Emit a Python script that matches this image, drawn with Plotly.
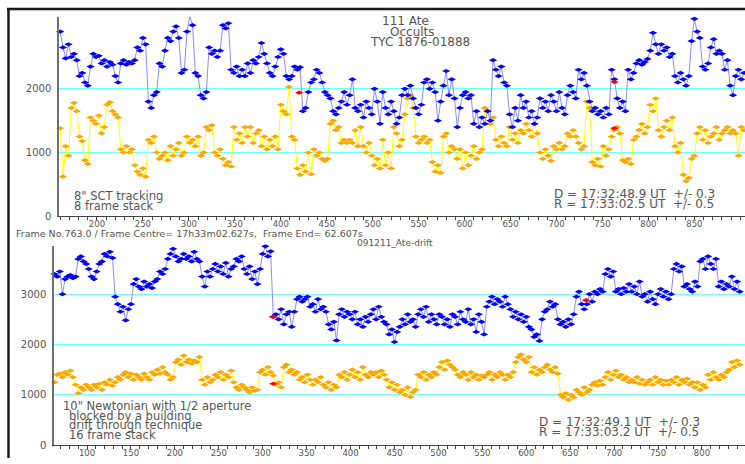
import plotly.graph_objects as go

# ---- 111 Ate occultation light curves (frame number vs. intensity) ----

# Upper panel: 8" SCT tracking, 8 frame stack; one sample every 3 frames from frame 160
top_start = 160
top_target = [
    2900, 2650, 2480, 2700, 2500, 2550, 2450, 2200, 2250, 2100,
    2050, 2350, 2550, 2500, 2520, 2400, 2450, 2350, 2420, 2380,
    2200, 2100, 2400, 2450, 2380, 2420, 2400, 2450, 2650, 2600,
    2800, 2700, 1800, 1700, 1900, 1950, 2400, 2350, 2600, 2800,
    2750, 2900, 2980, 2800, 2250, 2300, 2900, 3140, 3000, 2250,
    2200, 1900, 1850, 1950, 2650, 2550, 2600, 2500, 2600, 3000,
    2950, 3030, 2300, 2250, 2350, 2200, 2300, 2200, 2400, 2250,
    2450, 2400, 2500, 2720, 2550, 2400, 2250, 2200, 2350, 2500,
    2620, 2550, 2200, 2150, 2200, 2350, 2300, 2340, 1650, 1700,
    1950, 2100, 2150, 2300, 2250, 2100, 1950, 1900, 1850, 1650,
    1600, 1700, 1800, 1950, 1750, 1900, 2150, 1700, 1650, 1750,
    1550, 1800, 1700, 1600, 2000, 1800, 1450, 1950, 1700, 1600,
    1800, 1650, 1450, 1550, 1900, 2000, 1900, 2050, 1850, 1700,
    1600, 1750, 2100, 2150, 2000, 2100, 1950, 1500, 1800, 2050,
    2280, 1900, 2150, 1850, 1400, 1700, 1900, 1950, 1850, 1900,
    1450, 1650, 1400, 1550, 1450, 1650, 1500, 2450, 2300, 2200,
    2350, 2100, 2050, 1600, 1400, 1700, 1500, 1900, 1700, 1800,
    1550, 1650, 1450, 1550, 1850, 1700, 1800, 1650, 1900, 1800,
    1650, 1950, 1700, 1600, 1900, 2050, 1950, 1850, 2300, 2150,
    2250, 2050, 1800, 1650, 1700, 1600, 1650, 1550, 1700, 1600,
    2300, 2150, 1850, 1700, 1800, 1650, 2300, 2150, 2250, 2400,
    2450, 2380, 2420, 2470, 2600, 2880, 2700, 2550, 2700, 2600,
    2650, 2500, 2550, 2200, 2100, 2250, 2150, 2050, 2200, 2750,
    3100, 2900, 2800, 2350, 2300, 2400, 2650, 2780, 2550, 2600,
    2550, 2300, 2450, 2050, 1900, 2200, 2300, 2150, 2250,
]
top_comparison = [
    1380, 620, 1100, 950, 1700, 1780, 1650, 1250, 1180, 880,
    820, 1550, 1500, 1450, 1580, 1300, 1400, 1750, 1790, 1650,
    1600, 1550, 1050, 1000, 1100, 1000, 1050, 800, 700, 650,
    750, 620, 1200, 1150, 1250, 1000, 900, 950, 1000, 880,
    1100, 950, 1050, 1150, 950, 1000, 1250, 1150, 1200, 1100,
    1250, 950, 1000, 1400, 1350, 1430, 1000, 950, 1050, 900,
    800, 850, 780, 1400, 1200, 1300, 1150, 1400, 1250, 1400,
    1150, 1300, 1350, 1100, 1250, 1050, 1200, 1100, 1250, 1050,
    1750, 1650, 1600, 2030, 1250, 1200, 750, 650, 800, 700,
    1000, 660, 1050, 950, 1000, 900, 870, 900, 1450, 1500,
    1350, 1400, 1150, 1200, 1150, 1200, 1150, 1350, 1100, 1400,
    1100, 1000, 1150, 950, 800, 900, 750, 1200, 800, 1000,
    750, 1400, 1300, 1100, 1200, 1600, 1850, 1900, 1700, 1250,
    1150, 1200, 1250, 1150, 1200, 850, 700, 800, 680, 1250,
    1300, 1000, 1100, 1050, 900, 1050, 750, 1000, 800, 950,
    1100, 900, 1000, 1050, 1700, 1650, 1450, 1550, 1200, 1100,
    1250, 1150, 1100, 1400, 1200, 1300, 1150, 1350, 1300, 1450,
    1350, 1250, 1450, 1300, 1000, 900, 1050, 950, 870, 1100,
    1050, 1150, 1050, 1100, 1300, 1250, 1350, 1250, 1150, 1050,
    1100, 1800, 1700, 850, 800, 900, 780, 1100, 950, 1050,
    1250, 1350, 1400, 1300, 880, 850, 900, 820, 1200, 1250,
    1350, 1450, 1300, 1400, 1750, 1650, 1850, 1350, 1250, 1400,
    1500, 1350, 1550, 1100, 1000, 1150, 650, 550, 600, 900,
    950, 1300, 1400, 1200, 1350, 1150, 1250, 1300, 1400, 1200,
    1300, 1350, 1400, 1300, 1350, 1300, 950, 1400, 1350,
]
top_marked_frames = [420, 763, 763]
top_marked_values = [1940, 2108, 1380]

# Lower panel: 10" Newtonian drift-through, 16 frame stack; one sample every 3 frames from frame 63
bot_start = 63
bot_target = [
    3400, 3350, 3450, 3000, 3300, 3350, 3380, 3320, 3350, 3700,
    3750, 3650, 3600, 3500, 3350, 3300, 3450, 3600, 3650, 3800,
    3750, 3840, 3720, 2950, 2800, 2650, 2750, 2480, 2700, 2800,
    3200, 3300, 3150, 3100, 3250, 3150, 3200, 3120, 3250, 3300,
    3450, 3400, 3500, 3700, 3800, 3900, 3750, 3650, 3700, 3800,
    3700, 3750, 3650, 3840, 3700, 3650, 3350, 3150, 3450, 3350,
    3500, 3600, 3450, 3550, 3400, 3620, 3350, 3500, 3550, 3700,
    3650, 3750, 3500, 3400, 3550, 3300, 3450, 3200, 3500, 3800,
    3950, 3750, 3850, 2550, 2600, 2500, 2700, 2400, 2600, 2650,
    2350, 2650, 2900, 2950, 2850, 2900, 2950, 2750, 2800, 2650,
    2900, 2700, 2750, 2650, 2400, 2300, 2450, 2080, 2600, 2700,
    2550, 2650, 2600, 2500, 2650, 2400, 2500, 2350, 2550, 2450,
    2600, 2700, 2500, 2750, 2550, 2450, 2400, 2200, 2300, 2050,
    2250, 2350, 2500, 2400, 2600, 2450, 2500, 2350, 2600, 2700,
    2550, 2750, 2450, 2600, 2500, 2400, 2600, 2550, 2400, 2500,
    2350, 2600, 2550, 2400, 2650, 2500, 2450, 2700, 2400, 2500,
    2250, 2600, 2450, 2200, 2750, 2850, 2950, 2800, 2900, 2850,
    2750, 2950, 2800, 2700, 2550, 2650, 2500, 2600, 2450, 2550,
    2350, 2300, 2150, 2200, 2070, 2500, 2650, 2700, 2850, 2750,
    2800, 2500, 2400, 2450, 2350, 2500, 2400, 2600, 2950, 3050,
    2800, 2700, 2800, 3000, 2850, 3050, 3000, 3100, 3050, 3400,
    3500, 3350, 3450, 3050, 3100, 3000, 3120, 3050, 3200, 3050,
    3150, 3000, 3250, 2950, 3000, 2850, 3050, 2900, 2800, 3000,
    3100, 2950, 3050, 2900, 3000, 3500, 3600, 3450, 3550, 3150,
    3200, 3100, 3050, 3250, 3150, 3650, 3700, 3500, 3750, 3600,
    3500, 3700, 3150, 3250, 3100, 3200, 3150, 3350, 3100, 3250,
    3050,
]
bot_comparison = [
    1250, 1400, 1420, 1350, 1450, 1400, 1480, 1350, 1200, 1030,
    1150, 1100, 1200, 1150, 1100, 1200, 1150, 1220, 1100, 1250,
    1200, 1300, 1180, 1250, 1350, 1300, 1400, 1450, 1350, 1420,
    1300, 1400, 1350, 1300, 1420, 1350, 1300, 1450, 1400, 1500,
    1420, 1550, 1450, 1400, 1300, 1350, 1650, 1700, 1600, 1780,
    1650, 1700, 1620, 1680, 1650, 1750, 1300, 1200, 1350, 1250,
    1300, 1400, 1350, 1450, 1300, 1400, 1350, 1480, 1250, 1150,
    1100, 1200, 1150, 1100, 1050, 1150, 1080, 1100, 1450, 1500,
    1400, 1550, 1450, 1380, 1200, 1250, 1150, 1550, 1600, 1450,
    1500, 1400, 1450, 1300, 1350, 1250, 1400, 1300, 1200, 1300,
    1250, 1350, 1200, 1150, 1250, 1100, 1200, 1150, 1400, 1350,
    1450, 1300, 1400, 1500, 1350, 1450, 1300, 1550, 1400, 1350,
    1450, 1400, 1450, 1350, 1480, 1400, 1300, 1150, 1250, 1100,
    1200, 1050, 1100, 1000, 1150, 960, 1050, 1100, 1400, 1350,
    1450, 1300, 1400, 1350, 1450, 1400, 1550, 1650, 1500, 1680,
    1600, 1550, 1500, 1400, 1350, 1450, 1400, 1300, 1450, 1350,
    1400, 1300, 1380, 1350, 1400, 1450, 1300, 1400, 1350, 1450,
    1400, 1300, 1400, 1350, 1450, 1650, 1750, 1800, 1700, 1650,
    1750, 1450, 1550, 1400, 1500, 1450, 1550, 1600, 1500, 1450,
    1550, 1420, 1000, 950, 1030, 900, 1000, 950, 1100, 1050,
    1000, 1150, 1050, 1100, 1200, 1250, 1180, 1280, 1200, 1350,
    1450, 1300, 1400, 1480, 1350, 1400, 1300, 1350, 1250, 1300,
    1250, 1350, 1220, 1300, 1200, 1250, 1300, 1200, 1350, 1250,
    1300, 1200, 1280, 1200, 1300, 1250, 1350, 1200, 1300, 1250,
    1320, 1200, 1250, 1150, 1250, 1100, 1200, 1150, 1400, 1300,
    1450, 1350, 1300, 1400, 1350, 1450, 1500, 1650, 1550, 1680,
    1600,
]
bot_marked_frames = [312, 312, 668]
bot_marked_values = [2550, 1220, 2880]

top_ticks = [0, 1000, 2000]
bot_ticks = [0, 1000, 2000, 3000]

W, H = 745, 464
FONT = "DejaVu Sans"
TXT = "#555555"


def fx(px):
    return px / W


def fy(py):
    return 1 - py / H


def frames(start, values):
    return list(range(start, start + 3 * len(values), 3))


def curve(start, values, marker_color, line_color, xa, ya):
    return go.Scatter(
        x=frames(start, values), y=values, mode="lines+markers",
        line=dict(color=line_color, width=1),
        marker=dict(symbol="diamond-wide", size=6, color=marker_color),
        xaxis=xa, yaxis=ya, cliponaxis=False, showlegend=False,
        hoverinfo="x+y",
    )


def marks(fr, vals, xa, ya):
    return go.Scatter(
        x=fr, y=vals, mode="markers",
        marker=dict(symbol="diamond-wide", size=6, color="#ff0000"),
        xaxis=xa, yaxis=ya, cliponaxis=False, showlegend=False,
    )


fig = go.Figure()
fig.add_trace(curve(top_start, top_comparison, "#ffa500", "#ffff00", "x", "y"))
fig.add_trace(curve(top_start, top_target, "#0000ff", "#8c8cff", "x", "y"))
fig.add_trace(marks(top_marked_frames, top_marked_values, "x", "y"))
fig.add_trace(curve(bot_start, bot_comparison, "#ffa500", "#ffff00", "x2", "y2"))
fig.add_trace(curve(bot_start, bot_target, "#0000ff", "#8c8cff", "x2", "y2"))
fig.add_trace(marks(bot_marked_frames, bot_marked_values, "x2", "y2"))


def xaxis(domain, rng, anchor):
    return dict(
        domain=domain, range=rng, anchor=anchor, tick0=0, dtick=50,
        ticks="outside", ticklen=3, tickcolor="#404040", tickwidth=1,
        minor=dict(tick0=0, dtick=10, ticks="outside", ticklen=3,
                   tickcolor="#404040", tickwidth=1),
        showline=True, linecolor="#404040", linewidth=1,
        showgrid=False, zeroline=False,
        tickfont=dict(family=FONT, size=8.5, color=TXT),
        ticklabelstandoff=-3, fixedrange=True,
    )


def yaxis(domain, rng, anchor, ticks):
    return dict(
        domain=domain, range=rng, anchor=anchor, tickmode="array",
        tickvals=ticks, ticktext=[str(t) for t in ticks], ticks="",
        showline=True, linecolor="#707070", linewidth=1.5,
        showgrid=True, gridcolor="#70ffff", gridwidth=1,
        zeroline=False, tickfont=dict(family=FONT, size=10, color=TXT),
        ticklabelstandoff=4, fixedrange=True,
    )


fig.update_layout(
    width=W, height=H, autosize=False,
    margin=dict(l=0, r=0, t=0, b=0),
    paper_bgcolor="white", plot_bgcolor="white",
    xaxis=xaxis([fx(59), 1.0], [158.7, 905.1], "y"),
    yaxis=yaxis([fy(219), fy(17)], [0, 3132], "x", top_ticks),
    xaxis2=xaxis([fx(54), 1.0], [62.4, 849.0], "y2"),
    yaxis2=yaxis([fy(451), fy(249)], [0, 3961], "x2", bot_ticks),
)

notes = [
    ("111 Ate", 405, 21, "center", 12),
    ("Occults", 412, 32, "center", 12),
    ("TYC 1876-01888", 420, 43, "center", 12),
    ("8\" SCT tracking", 73, 199, "left", 11.5),
    ("8 frame stack", 73, 209, "left", 11.5),
    ("D = 17:32:48.9 UT  +/- 0.3", 553, 197, "left", 12),
    ("R = 17:33:02.5 UT  +/- 0.5", 553, 207, "left", 12),
    ("Frame No.763.0 / Frame Centre= 17h33m02.627s,  Frame End= 62.607s", 15, 237, "left", 9.5),
    ("091211_Ate-drift", 356, 246, "left", 9),
    ("10\" Newtonian with 1/2 aperture", 62, 411, "left", 11.5),
    ("blocked by a building", 68, 421, "left", 11.5),
    ("drift through technique", 68, 431, "left", 11.5),
    ("16 frame stack", 68, 441, "left", 11.5),
    ("D = 17:32:49.1 UT  +/- 0.3", 538, 428, "left", 12),
    ("R = 17:33:03.2 UT  +/- 0.5", 538, 438, "left", 12),
]
for text, px, py, anchor, size in notes:
    fig.add_annotation(
        text=text, x=fx(px), y=fy(py), xref="paper", yref="paper",
        xanchor=anchor, yanchor="middle", showarrow=False, borderpad=0,
        font=dict(family=FONT, size=size, color=TXT),
    )

# window frame: thick dark edges along the top and left
fig.add_shape(type="line", xref="paper", yref="paper",
              x0=fx(7), x1=1.0, y0=fy(9), y1=fy(9),
              line=dict(color="#1a1a1a", width=2.5))
fig.add_shape(type="line", xref="paper", yref="paper",
              x0=fx(8.5), x1=fx(8.5), y0=fy(8), y1=0,
              line=dict(color="#1a1a1a", width=2.5))

fig.write_html("out.html")
